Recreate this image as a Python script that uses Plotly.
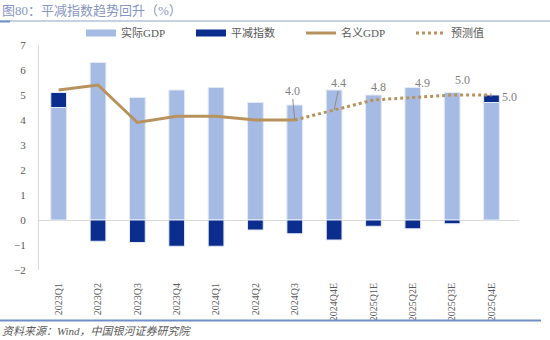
import plotly.graph_objects as go

categories = ["2023Q1", "2023Q2", "2023Q3", "2023Q4", "2024Q1", "2024Q2", "2024Q3",
              "2024Q4E", "2025Q1E", "2025Q2E", "2025Q3E", "2025Q4E"]
real_gdp = [4.5, 6.3, 4.9, 5.2, 5.3, 4.7, 4.6, 5.2, 5.0, 5.3, 5.1, 4.7]
deflator = [0.6, -0.85, -0.9, -1.05, -1.05, -0.4, -0.55, -0.8, -0.25, -0.35, -0.15, 0.3]
nominal_actual = [5.2, 5.4, 3.9, 4.15, 4.15, 4.0, 4.0]
nominal_forecast = [4.0, 4.4, 4.8, 4.9, 5.0, 5.0]
forecast_labels = ["4.0", "4.4", "4.8", "4.9", "5.0", "5.0"]

LIGHT = "#a6bbe3"
DARK = "#0a2d8e"
GOLD = "#b8925c"
FONT = "Liberation Serif, Noto Sans CJK SC, serif"

fig = go.Figure()
fig.add_trace(go.Bar(x=categories, y=real_gdp, name="实际GDP", marker_color=LIGHT,
                     marker_line=dict(color="#e4ebf7", width=1), width=0.4, showlegend=False))
fig.add_trace(go.Bar(x=categories, y=deflator, name="平减指数", marker_color=DARK,
                     marker_line=dict(color="#e4ebf7", width=1), width=0.4, showlegend=False))
# legend entries with wide swatches
fig.add_trace(go.Scatter(x=[None], y=[None], name="实际GDP", mode="lines",
                         line=dict(color=LIGHT, width=7)))
fig.add_trace(go.Scatter(x=[None], y=[None], name="平减指数", mode="lines",
                         line=dict(color=DARK, width=7)))
fig.add_trace(go.Scatter(x=categories[:len(nominal_actual)], y=nominal_actual, name="名义GDP",
                         mode="lines", line=dict(color=GOLD, width=3)))
fc_x = categories[len(nominal_actual) - 1:]
fig.add_trace(go.Scatter(x=fc_x, y=nominal_forecast, name="预测值",
                         mode="lines", line=dict(color=GOLD, width=3, dash="dot")))

# label offsets (pixels) for forecast values
offsets = [(-2, -29, True), (4, -27, True), (5, -13, False), (10, -15, False), (10, -15, False), (18, 2, False)]
for xv, yv, txt, (ax, ay, leader) in zip(fc_x, nominal_forecast, forecast_labels, offsets):
    fig.add_annotation(x=xv, y=yv, text=txt, showarrow=False, xshift=ax, yshift=-ay,
                       font=dict(family=FONT, size=12, color="#7f7f7f"))
    if leader:
        fig.add_shape(type="line", xref="x", yref="y", xsizemode="pixel", ysizemode="pixel",
                      xanchor=xv, yanchor=yv, x0=0, y0=0, x1=ax, y1=-ay - 8,
                      line=dict(color="#8c8c8c", width=1))

# title and decoration
fig.add_annotation(xref="paper", yref="paper", x=-39 / 480, y=1 + (45 - 10) / 225,
                   xanchor="left", yanchor="middle", showarrow=False,
                   text="图80：平减指数趋势回升（%）",
                   font=dict(family=FONT, size=13, color="#8796bf"))
fig.add_annotation(xref="paper", yref="paper", x=-39 / 480, y=-(331 - 270) / 225,
                   xanchor="left", yanchor="middle", showarrow=False,
                   text="<i>资料来源：Wind，中国银河证券研究院</i>",
                   font=dict(family=FONT, size=11, color="#595959"))
fig.add_shape(type="line", xref="paper", yref="paper", x0=-39 / 480, x1=(550 - 39) / 480,
              y0=1 + (45 - 21) / 225, y1=1 + (45 - 21) / 225, line=dict(color="#8ea3c9", width=1))
fig.add_shape(type="line", xref="paper", yref="paper", x0=-39 / 480, x1=(10 - 39) / 480,
              y0=1 + (45 - 21.5) / 225, y1=1 + (45 - 21.5) / 225, line=dict(color="#6f8fc8", width=2))
fig.add_shape(type="line", xref="paper", yref="paper", x0=-39 / 480, x1=(541 - 39) / 480,
              y0=-(320.5 - 270) / 225, y1=-(320.5 - 270) / 225, line=dict(color="#6f8fc8", width=2))

fig.update_layout(
    width=550, height=340,
    margin=dict(l=39, r=31, t=45, b=70),
    barmode="relative",
    plot_bgcolor="white", paper_bgcolor="white",
    font=dict(family=FONT, size=11, color="#595959"),
    showlegend=True,
    legend=dict(orientation="h", x=(81 - 39) / 480, xanchor="left", y=1 + 12 / 225, yanchor="middle",
                font=dict(family=FONT, size=11, color="#595959"), entrywidth=65,
                traceorder="normal", bgcolor="rgba(0,0,0,0)"),
    xaxis=dict(type="category", tickangle=-90, showline=False, ticks="outside", ticklen=8,
               tickcolor="rgba(0,0,0,0)", showgrid=False,
               tickfont=dict(family=FONT, size=10, color="#595959")),
    yaxis=dict(range=[-2, 7], dtick=1, showgrid=False, zeroline=True, zerolinecolor="#d9d9d9",
               zerolinewidth=1, showline=True, linecolor="#d9d9d9", linewidth=1,
               ticks="outside", ticklen=10, tickcolor="rgba(0,0,0,0)",
               tickfont=dict(family=FONT, size=11, color="#595959")),
)

fig.write_html("out.html")
